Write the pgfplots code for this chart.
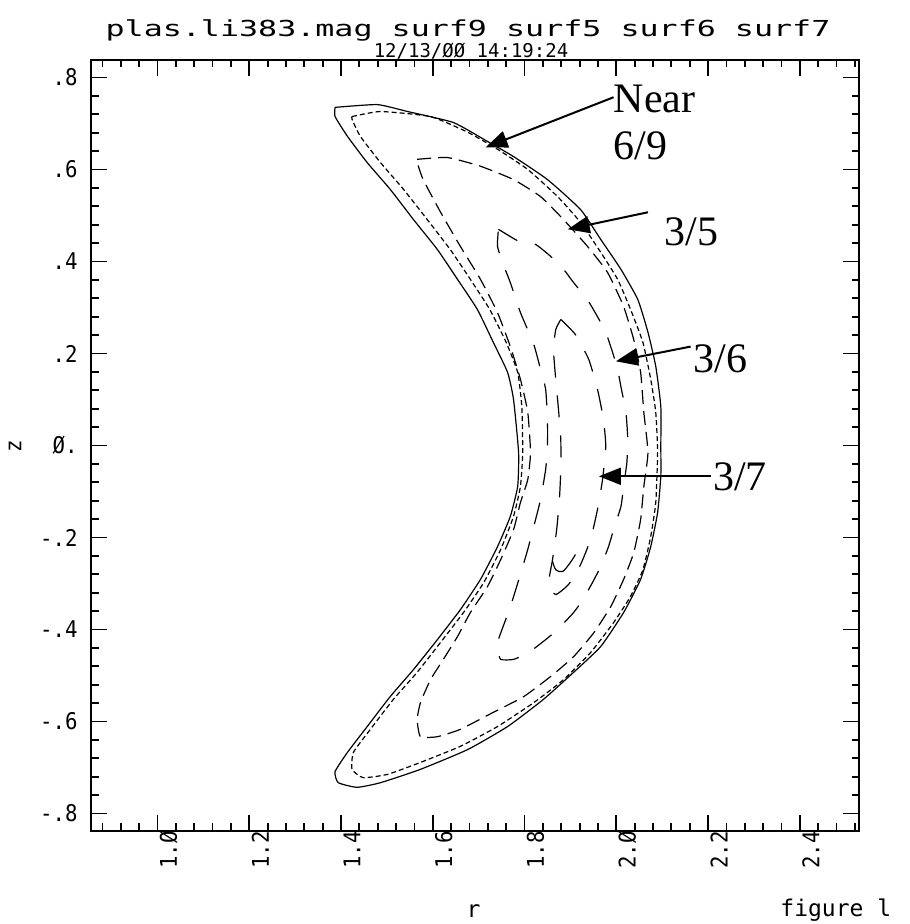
\documentclass[border=0pt]{standalone}
\usepackage{pgfplots}
\pgfplotsset{compat=1.18}
\usetikzlibrary{arrows.meta}
\usepackage{fontspec}
\newfontfamily\tickfam[FakeStretch=0.9]{DejaVu Sans Mono}
\newfontfamily\titlefam[FakeStretch=1.44]{DejaVu Sans Mono}
\newfontfamily\monofam{DejaVu Sans Mono}
\newfontfamily\annfam{Liberation Serif}
\newcommand{\tickfont}{\tickfam\fontsize{11.5}{12}\selectfont}
\begin{document}
\begin{tikzpicture}
\useasboundingbox (-45.5pt,-46.5pt) rectangle (409pt,415.5pt);
\begin{axis}[
  at={(0pt,0pt)}, anchor=south west,
  scale only axis, width=384pt, height=385.5pt,
  xmin=0.855, xmax=2.529, ymin=-0.838, ymax=0.838,
  axis line style={line width=1pt},
  tick align=inside,
  major tick length=8pt, minor tick length=3.75pt,
  every tick/.style={black, line width=0.9pt},
  xtick={1.0,1.2,1.4,1.6,1.8,2.0,2.2,2.4},
  xticklabels={1.Ø,1.2,1.4,1.6,1.8,2.Ø,2.2,2.4},
  minor xtick={0.88,0.92,0.96,1.04,1.08,1.12,1.16,1.24,1.28,1.32,1.36,1.44,1.48,1.52,1.56,1.64,1.68,1.72,1.76,1.84,1.88,1.92,1.96,2.04,2.08,2.12,2.16,2.24,2.28,2.32,2.36,2.44,2.48,2.52},
  ytick={-0.8,-0.6,-0.4,-0.2,0,0.2,0.4,0.6,0.8},
  yticklabels={-.8,-.6,-.4,-.2,Ø.,.2,.4,.6,.8},
  minor ytick={-0.76,-0.72,-0.68,-0.64,-0.56,-0.52,-0.48,-0.44,-0.36,-0.32,-0.28,-0.24,-0.16,-0.12,-0.08,-0.04,0.04,0.08,0.12,0.16,0.24,0.28,0.32,0.36,0.44,0.48,0.52,0.56,0.64,0.68,0.72,0.76},
  tick label style={font=\tickfont, inner sep=0pt},
  xticklabel style={rotate=90, anchor=east, yshift=-5.5pt},
  yticklabel style={anchor=east, xshift=-6.5pt},
  clip=false,
]
% outer solid surface
\addplot[black, line width=0.6pt, smooth, tension=0.3] coordinates {
(1.387,0.735) (1.479,0.741) (1.545,0.726) (1.645,0.702) (1.719,0.661) (1.776,0.628) (1.850,0.578) (1.922,0.513) (1.966,0.448) (2.010,0.383) (2.047,0.317) (2.069,0.246) (2.086,0.172) (2.097,0.085) (2.097,-0.002) (2.097,-0.067) (2.090,-0.146) (2.075,-0.220) (2.053,-0.291) (2.016,-0.363) (1.966,-0.437) (1.907,-0.493) (1.841,-0.552) (1.763,-0.611) (1.676,-0.661) (1.573,-0.704) (1.486,-0.733) (1.435,-0.743) (1.394,-0.733) (1.387,-0.709) (1.414,-0.667) (1.457,-0.611) (1.507,-0.546) (1.558,-0.487) (1.610,-0.422) (1.660,-0.357) (1.704,-0.291) (1.741,-0.220) (1.769,-0.154) (1.785,-0.089) (1.787,-0.015) (1.776,0.100) (1.763,0.159) (1.732,0.224) (1.697,0.296) (1.654,0.361) (1.610,0.426) (1.558,0.491) (1.507,0.557) (1.457,0.615) (1.414,0.672) (1.387,0.715) (1.387,0.735)};
% surf9 fine dashed
\addplot[black, line width=0.6pt, dash pattern=on 2.5pt off 1.5pt, smooth, tension=0.3] coordinates {
(1.424,0.715) (1.486,0.726) (1.595,0.715) (1.676,0.681) (1.741,0.644) (1.807,0.600) (1.872,0.541) (1.922,0.485) (1.966,0.420) (2.003,0.361) (2.031,0.296) (2.058,0.224) (2.075,0.144) (2.086,0.072) (2.090,-0.015) (2.086,-0.124) (2.075,-0.198) (2.058,-0.270) (2.031,-0.328) (1.994,-0.385) (1.944,-0.450) (1.885,-0.509) (1.820,-0.559) (1.741,-0.611) (1.660,-0.654) (1.573,-0.689) (1.501,-0.715) (1.448,-0.722) (1.424,-0.704) (1.427,-0.667) (1.464,-0.617) (1.514,-0.552) (1.566,-0.493) (1.617,-0.428) (1.667,-0.363) (1.711,-0.298) (1.748,-0.226) (1.776,-0.154) (1.791,-0.089) (1.796,-0.015) (1.794,0.085) (1.785,0.159) (1.760,0.224) (1.724,0.296) (1.682,0.361) (1.638,0.426) (1.588,0.491) (1.536,0.557) (1.486,0.615) (1.442,0.672) (1.424,0.709) (1.424,0.715)};
% surf5 medium dashed
\addplot[black, line width=0.6pt, dash pattern=on 7pt off 3.5pt, smooth, tension=0.3] coordinates {
(1.566,0.622) (1.632,0.626) (1.704,0.607) (1.776,0.578) (1.835,0.541) (1.885,0.491) (1.937,0.433) (1.981,0.376) (2.016,0.302) (2.038,0.230) (2.053,0.159) (2.060,0.072) (2.069,-0.015) (2.060,-0.089) (2.053,-0.161) (2.038,-0.233) (2.016,-0.291) (1.988,-0.350) (1.951,-0.407) (1.907,-0.459) (1.857,-0.502) (1.798,-0.546) (1.732,-0.580) (1.660,-0.617) (1.610,-0.633) (1.573,-0.633) (1.566,-0.596) (1.573,-0.559) (1.595,-0.509) (1.623,-0.465) (1.654,-0.415) (1.682,-0.363) (1.719,-0.307) (1.748,-0.248) (1.776,-0.183) (1.791,-0.124) (1.807,-0.074) (1.813,-0.015) (1.807,0.072) (1.791,0.144) (1.769,0.215) (1.741,0.289) (1.704,0.361) (1.660,0.433) (1.617,0.507) (1.579,0.578) (1.566,0.615) (1.566,0.622)};
% surf6 island chain (long dashes)
\addplot[black, line width=0.6pt, dash pattern=on 11pt off 9pt, smooth, tension=0.3] coordinates {
(1.743,0.470) (1.787,0.444) (1.824,0.437) (1.857,0.411) (1.885,0.383) (1.907,0.354) (1.937,0.317) (1.959,0.280) (1.977,0.246) (1.992,0.202) (2.003,0.165) (2.010,0.128) (2.021,0.072) (2.025,0.013) (2.023,-0.037) (2.016,-0.089) (2.010,-0.133) (1.994,-0.183) (1.983,-0.220) (1.966,-0.263) (1.948,-0.298) (1.927,-0.335) (1.907,-0.363) (1.872,-0.400) (1.846,-0.422) (1.809,-0.450) (1.776,-0.465) (1.748,-0.465) (1.741,-0.443) (1.743,-0.422) (1.759,-0.378) (1.774,-0.335) (1.791,-0.280) (1.807,-0.226) (1.824,-0.161) (1.835,-0.117) (1.846,-0.052) (1.850,-0.002) (1.850,0.057) (1.846,0.122) (1.835,0.165) (1.820,0.220) (1.791,0.289) (1.769,0.354) (1.752,0.398) (1.741,0.433) (1.743,0.470)};
% surf7 island chain (long dashes)
\addplot[black, line width=0.6pt, dash pattern=on 11pt off 9pt, smooth, tension=0.3] coordinates {
(1.879,0.274) (1.911,0.241) (1.940,0.187) (1.959,0.122) (1.972,0.057) (1.977,-0.002) (1.970,-0.074) (1.959,-0.139) (1.944,-0.204) (1.922,-0.259) (1.896,-0.302) (1.868,-0.324) (1.852,-0.302) (1.861,-0.248) (1.870,-0.183) (1.876,-0.117) (1.879,-0.052) (1.879,0.013) (1.874,0.078) (1.868,0.143) (1.863,0.209) (1.868,0.252) (1.879,0.274)};
% small solid arc
\addplot[black, line width=0.6pt, smooth] coordinates {
(1.861,-0.252) (1.868,-0.270) (1.883,-0.274) (1.900,-0.254) (1.911,-0.237)};
% annotations
\draw[line width=1pt, -{Triangle[length=11pt,width=8.5pt]}] (axis cs:1.994,0.757) -- (axis cs:1.715,0.648);
\draw[line width=1pt, -{Triangle[length=11pt,width=8.5pt]}] (axis cs:2.069,0.507) -- (axis cs:1.894,0.470);
\draw[line width=1pt, -{Triangle[length=11pt,width=8.5pt]}] (axis cs:2.162,0.215) -- (axis cs:1.999,0.183);
\draw[line width=1pt, -{Triangle[length=11pt,width=8.5pt]}] (axis cs:2.206,-0.067) -- (axis cs:1.962,-0.067);
\node[anchor=base west, inner sep=0pt, font=\annfam\fontsize{21}{24}\selectfont] at (axis cs:1.994,0.724) {Near};
\node[anchor=base west, inner sep=0pt, font=\annfam\fontsize{21}{24}\selectfont] at (axis cs:1.994,0.622) {6/9};
\node[anchor=base west, inner sep=0pt, font=\annfam\fontsize{21}{24}\selectfont] at (axis cs:2.104,0.435) {3/5};
\node[anchor=base west, inner sep=0pt, font=\annfam\fontsize{21}{24}\selectfont] at (axis cs:2.167,0.159) {3/6};
\node[anchor=base west, inner sep=0pt, font=\annfam\fontsize{21}{24}\selectfont] at (axis cs:2.210,-0.098) {3/7};
\end{axis}
% texts outside the frame (pt, origin at lower-left of frame)
\node[anchor=base, inner sep=0pt, font=\titlefam\fontsize{11}{12}\selectfont] at (188.5pt,397pt) {plas.li383.mag surf9 surf5 surf6 surf7};
\node[anchor=base, inner sep=0pt, font=\monofam\fontsize{9.5}{10}\selectfont] at (190pt,386.5pt) {12/13/ØØ 14:19:24};
\node[rotate=90, inner sep=0pt, font=\tickfont] at (-38pt,192.5pt) {z};
\node[anchor=base, inner sep=0pt, font=\monofam\fontsize{11.5}{12}\selectfont] at (191.25pt,-43pt) {r};
\node[anchor=base west, inner sep=0pt, font=\monofam\fontsize{11.5}{12}\selectfont] at (344.5pt,-42.5pt) {figure l};
\end{tikzpicture}
\end{document}
